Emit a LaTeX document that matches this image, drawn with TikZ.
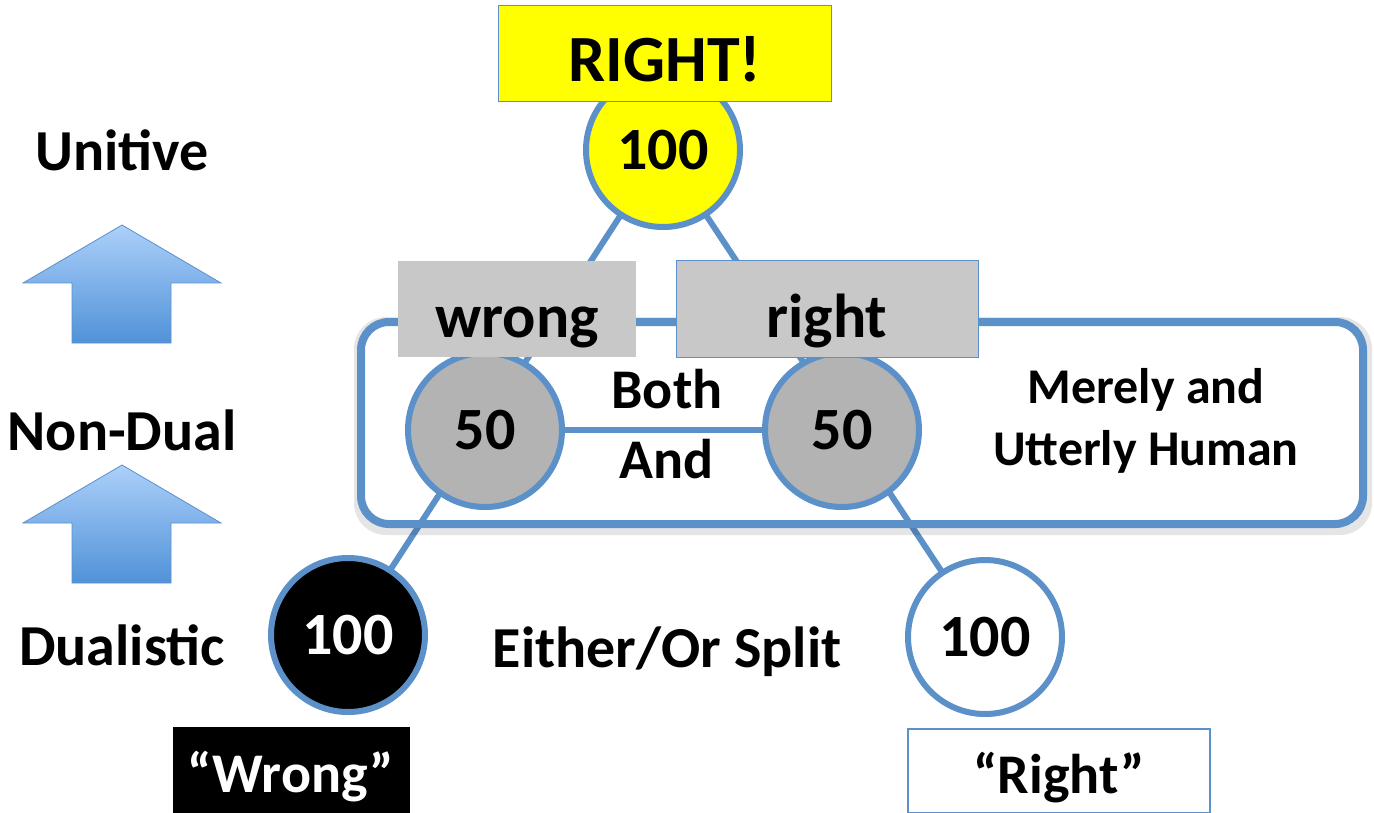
\documentclass[tikz,border=0pt]{standalone}
\usepackage{fontspec}
\setmainfont{Carlito}
\usetikzlibrary{positioning, shapes, backgrounds, shadows}

\definecolor{lineblue}{RGB}{91,144,200}
\definecolor{boxgray}{RGB}{200,200,200}
\definecolor{discgray}{RGB}{179,179,179}
\definecolor{arrowtop}{RGB}{172,208,250}
\definecolor{arrowbot}{RGB}{80,146,216}
\definecolor{brightyellow}{RGB}{255,255,0}

\begin{document}
\begin{tikzpicture}[x=1pt, y=-1pt,
        disc/.style={circle, draw=lineblue, line width=6pt, minimum size=154pt, inner sep=0pt,
                font=\fontsize{60}{72}\selectfont\bfseries,
                drop shadow={opacity=0.25, shadow xshift=1pt, shadow yshift=-3pt}},
        tagbox/.style={rectangle, inner sep=0pt, font=\fontsize{62}{74}\selectfont\bfseries},
        level/.style={font=\fontsize{58}{70}\selectfont\bfseries},
        note/.style={font=\fontsize{50}{62}\selectfont\bfseries, align=center},
        link/.style={draw=lineblue, line width=6pt},
        uparrow/.style={top color=arrowtop, bottom color=arrowbot, draw=lineblue, line width=0.8pt}]
        \useasboundingbox (0,0) rectangle (1374,813);

        % Draw the level labels
        \node[level] (unitive) at (122,150) {Unitive};
        \node[level] (nondual) at (122,430) {Non-Dual};
        \node[level] (dualistic) at (122,645) {Dualistic};

        % Draw the up arrows
        \foreach \t in {225, 465} {
                \path[uparrow] (122,\t) -- (221,\t+58) -- (171,\t+58) -- (171,\t+118)
                        -- (72,\t+118) -- (72,\t+58) -- (23,\t+58) -- cycle;
        }

        % Draw the frame of the non-dual level
        \node[draw=lineblue, line width=8pt, rounded corners=28pt, minimum width=1002pt, minimum height=202pt] (human) at (862,423) {};

        % Draw the circles
        \node[disc, fill=brightyellow] (top) at (663,150) {100};
        \node[disc, fill=discgray] (w50) at (485,430) {50};
        \node[disc, fill=discgray] (r50) at (842,430) {50};
        \node[disc, fill=black, text=white] (wrong100) at (348,635) {100};
        \node[disc, fill=white] (right100) at (985,637) {100};

        % Draw the links behind the circles
        \begin{scope}[on background layer]
                \draw[link] (top.center) -- (wrong100.center);
                \draw[link] (top.center) -- (right100.center);
                \draw[link] (w50.center) -- (r50.center);
                \draw[black, opacity=0.1, line width=8pt, rounded corners=28pt]
                        ([shift={(1,3)}]human.north west) rectangle ([shift={(1,3)}]human.south east);
        \end{scope}

        % Draw the boxes
        \node[tagbox, fill=brightyellow, draw=lineblue, line width=1pt, minimum width=333pt, minimum height=96pt,
                font=\fontsize{66}{78}\selectfont\bfseries, text height=56pt, text depth=0pt] (bigright) at (665,54) {RIGHT!};
        \node[tagbox, fill=boxgray, minimum width=238pt, minimum height=96pt, text height=56pt, text depth=0pt] (wrongtag) at (517,309) {wrong};
        \node[tagbox, fill=boxgray, draw=lineblue, line width=1pt, minimum width=302pt, minimum height=97pt, text height=56pt, text depth=0pt] (righttag) at (827,309) {right};
        \node[tagbox, fill=black, text=white, minimum width=237pt, minimum height=86pt, text height=44pt, text depth=0pt,
                font=\fontsize{56}{68}\selectfont\bfseries] (wrongquote) at (291,770) {“Wrong”};
        \node[tagbox, fill=white, draw=lineblue, line width=1.5pt, minimum width=302pt, minimum height=84pt, text height=44pt, text depth=0pt,
                font=\fontsize{56}{68}\selectfont\bfseries] (rightquote) at (1059,771) {“Right”};

        % Draw the notes
        \node[note, font=\fontsize{56}{68}\selectfont\bfseries] (both) at (667,389) {Both};
        \node[note, font=\fontsize{56}{68}\selectfont\bfseries] (and) at (667,459) {And};
        \node[note] (merely) at (1146,421) {Merely and\\[0pt]Utterly Human};
        \node[level] (split) at (667,652) {Either/Or Split};
\end{tikzpicture}
\end{document}
